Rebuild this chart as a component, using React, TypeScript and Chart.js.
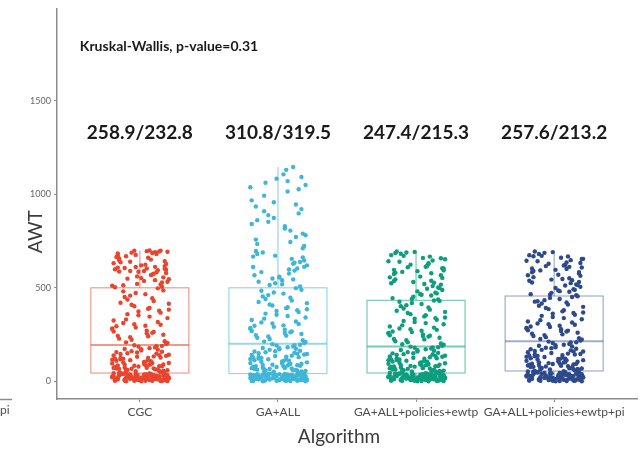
import React, { useEffect, useRef } from "react";
import { Chart, registerables } from "chart.js";

Chart.register(...registerables);

// ---- data ----
const CATEGORIES = ["CGC", "GA+ALL", "GA+ALL+policies+ewtp", "GA+ALL+policies+ewtp+pi"];
const SUMMARY_LABELS = ["258.9/232.8", "310.8/319.5", "247.4/215.3", "257.6/213.2"];
const KW_LABEL = "Kruskal-Wallis, p-value=0.31";
const Y_TICKS = [0, 500, 1000, 1500];
const X_TITLE = "Algorithm";
const Y_TITLE = "AWT";

const WHISKER_LOW = [0, 0, 0, 0];
const Q1 = [44, 41, 44, 55];
const MEDIAN = [194, 200, 186, 214];
const Q3 = [500, 500, 433, 456];
const WHISKER_HIGH = [700, 1146, 694, 694];

const CGC_AWT = [
  3, 12, 27, 8, 40, 19, 33, 5, 22, 14, 37, 1, 29, 10, 43, 17, 6, 25, 35, 13, 2, 31, 20, 9, 41, 16, 26, 4, 38, 11,
  23, 7, 34, 18, 0, 30, 15, 42, 21, 28, 6, 36, 12, 24, 3, 39, 17, 32, 9, 44, 14, 27, 1, 22, 35, 19, 8, 30, 11, 26,
  4, 18, 31, 10, 25, 2, 37, 15, 21, 7, 42, 13, 28, 0, 34, 19, 9, 39, 24, 5, 16, 33, 11, 44, 20, 1, 29, 14, 36, 8,
  48, 57, 63, 71, 52, 88, 95, 60, 79, 104, 112, 67, 83, 121, 98, 133, 74, 146, 109, 55, 158, 127, 90, 169, 138,
  62, 177, 115, 150, 185, 86, 124, 161, 193, 101, 142, 69, 173, 118, 156, 81, 189, 131, 93, 165, 107, 148, 77, 181, 136,
  51, 66, 84, 59, 97, 72, 113, 54, 89, 125, 68, 140, 80, 154, 103, 171, 92, 187, 120, 64,
  199, 214, 228, 243, 205, 259, 271, 236, 288, 302, 249, 317, 266, 331, 346, 282, 359, 373, 297, 388, 222, 401, 312,
  415, 429, 338, 444, 256, 458, 472, 367, 486, 497, 325, 208, 392, 279, 437, 353, 466, 241, 409, 305, 481, 383, 264,
  451, 420, 294, 377,
  506, 521, 537, 552, 568, 583, 599, 612, 628, 643, 657, 672, 688, 698, 514, 546, 575, 606, 637, 665, 694, 529, 561,
  590, 620, 651, 681, 503, 541, 579, 616, 648, 684, 532, 571, 603, 639, 676, 518, 556, 594, 632, 669, 700, 511, 549,
  586, 624, 661, 691, 597, 602, 587, 608, 693, 686, 696, 590, 611, 699,
];

const GA_ALL_AWT = [
  2, 15, 30, 7, 38, 21, 11, 34, 4, 26, 18, 40, 9, 24, 1, 32, 13, 36, 6, 28, 19, 3, 41, 16, 23, 10, 35, 0, 29, 14,
  39, 8, 25, 20, 5, 33, 12, 37, 17, 27, 2, 31, 22, 9, 40, 15, 6, 26, 35, 11, 19, 3, 30, 24, 13, 38, 7, 21, 33, 16,
  6, 20, 34, 12, 27, 1, 39, 17, 23, 8, 41, 14, 30, 3, 36, 18, 10, 32, 25, 5, 15, 37, 9, 28, 22, 0, 31, 13, 40, 19,
  45, 53, 61, 70, 49, 84, 97, 58, 76, 108, 116, 66, 88, 125, 101, 137, 73, 150, 112, 56, 163, 129, 92, 174, 141,
  64, 182, 119, 155, 191, 80, 132, 168, 198, 104, 146, 68, 178, 122, 159, 86, 195, 135, 95, 171, 110, 152, 78, 186, 143,
  47, 62, 81, 55, 94, 71, 118, 51, 87, 130, 65, 148, 83, 161, 106, 177, 90, 193, 127, 59,
  204, 219, 233, 247, 210, 262, 276, 240, 291, 306, 253, 320, 269, 335, 349, 285, 362, 376, 299, 391, 226, 405, 315,
  418, 432, 341, 447, 258, 461, 475, 370, 489, 498, 328, 212, 396, 281, 440, 356, 469, 244, 411, 309, 484, 385, 266,
  454, 424, 297, 380,
  507, 524, 541, 559, 576, 592, 611, 629, 646, 663, 681, 697, 515, 550, 584, 620, 655, 689, 532, 567, 603, 638, 672,
  519, 555, 598, 634, 667, 545, 612,
  712, 735, 758, 781, 806, 829, 853, 874, 898, 921, 946, 968, 993, 1015, 1038, 1062, 1084, 1107, 1131, 1146, 724,
  790, 862, 935, 1050, 745, 817, 889, 958, 1027, 1093, 772, 841, 910, 1071,
];

const EWTP_AWT = [
  4, 13, 28, 9, 41, 20, 32, 6, 23, 15, 36, 2, 30, 11, 44, 18, 7, 26, 34, 14, 1, 31, 21, 10, 42, 17, 27, 5, 39, 12,
  24, 8, 35, 19, 0, 29, 16, 43, 22, 33, 3, 37, 13, 25, 6, 40, 18, 31, 10, 27, 15, 38, 2, 23, 34, 20, 9, 29, 12, 44,
  7, 19, 33, 11, 26, 0, 38, 16, 22, 5, 43, 14, 29, 2, 35, 17, 9, 40, 24, 4, 13, 36, 10, 42, 21, 1, 30, 15, 37, 8,
  47, 55, 62, 70, 51, 85, 93, 59, 78, 101, 109, 66, 82, 117, 96, 128, 73, 141, 105, 54, 152, 123, 89, 163, 133, 61,
  171, 112, 145, 179, 84, 120, 156, 185, 99, 137, 68, 167, 114, 149, 80, 182, 126, 91, 159, 104, 143, 76, 175, 131,
  50, 64, 79, 57, 92, 70, 110, 53, 86, 122, 63, 136, 81, 150, 99, 166, 88, 181, 116, 60,
  190, 202, 214, 226, 195, 239, 250, 219, 263, 275, 233, 287, 246, 299, 311, 259, 323, 335, 270, 347, 208, 359, 282,
  371, 383, 305, 395, 242, 407, 419, 329, 430, 432, 293, 198, 353, 255, 389, 317, 413, 224, 365, 278, 425, 341, 244,
  401, 377, 266, 338,
  438, 452, 466, 481, 495, 509, 524, 538, 553, 567, 581, 596, 610, 624, 639, 653, 667, 682, 694, 445, 474, 502, 531,
  560, 589, 617, 646, 675, 459, 488, 517, 545, 574, 603, 632, 660, 689, 441, 470, 499, 527, 556, 585, 613, 642, 671,
  692, 463, 520, 578, 605, 658, 686, 536, 593, 627,
];

const EWTP_PI_AWT = [
  5, 16, 33, 10, 48, 24, 38, 7, 27, 18, 43, 2, 35, 13, 52, 21, 8, 31, 40, 17, 1, 37, 25, 12, 50, 20, 32, 6, 46, 14,
  29, 9, 42, 23, 0, 34, 19, 54, 26, 39, 3, 44, 15, 30, 7, 47, 22, 36, 11, 55, 28, 4, 41, 18, 32, 12, 49, 25, 9, 38,
  8, 22, 39, 13, 30, 1, 45, 19, 26, 6, 51, 16, 35, 3, 42, 20, 11, 47, 28, 4, 15, 41, 10, 53, 24, 0, 36, 17, 44, 9,
  58, 66, 75, 84, 62, 100, 109, 71, 92, 118, 127, 79, 97, 136, 113, 148, 87, 162, 123, 64, 174, 143, 104, 186, 155,
  73, 195, 131, 168, 205, 95, 140, 179, 212, 116, 159, 81, 190, 134, 171, 90, 209, 151, 107, 182, 121, 165, 88, 199, 146,
  60, 77, 94, 68, 112, 83, 130, 63, 101, 145, 76, 160, 93, 177, 119, 193, 103, 207, 138, 70,
  218, 230, 242, 254, 223, 266, 278, 247, 290, 302, 260, 314, 273, 326, 338, 285, 350, 362, 297, 374, 236, 386, 309,
  398, 410, 332, 422, 269, 434, 446, 356, 455, 451, 320, 226, 380, 282, 416, 344, 440, 251, 392, 305, 428, 368, 271,
  404, 426, 293, 365,
  460, 473, 486, 499, 512, 525, 538, 551, 564, 577, 590, 603, 616, 629, 642, 655, 668, 681, 694, 466, 492, 518, 544,
  570, 596, 622, 648, 674, 479, 505, 531, 557, 583, 609, 635, 661, 687, 463, 489, 515, 541, 567, 593, 619, 645, 671,
  691, 482, 547, 612, 633, 584, 669, 528, 654, 601,
];

const SERIES = [CGC_AWT, GA_ALL_AWT, EWTP_AWT, EWTP_PI_AWT];

// horizontal jitter offsets (category units), cycled over the points
const JITTER = [
  -0.18, 0.07, -0.02, 0.15, -0.11, 0.2, -0.06, 0.11, -0.2, 0.03, 0.17, -0.14, 0.09, -0.04, 0.19, -0.09, 0.01, 0.13,
  -0.17, 0.05, -0.12, 0.18, -0.01, 0.08, -0.19, 0.14, -0.07, 0.21, -0.15, 0.04, 0.12, -0.1, 0.16, -0.03, 0.1, -0.16,
  0.06,
];

// ---- styles ----
const POINT_COLORS = ["#E8452F", "#3FB6D7", "#0C9E7D", "#2E4A8B"];
const BOX_COLORS = ["rgba(232,69,47,0.55)", "rgba(63,182,215,0.55)", "rgba(12,158,125,0.55)", "rgba(46,74,139,0.45)"];
const FONT = "Lato, 'Open Sans', 'Liberation Sans', sans-serif";
const BOX_HALF = 0.355;

const boxPlugin = {
  id: "boxes",
  beforeDatasetsDraw(chart: any) {
    const { ctx, scales } = chart;
    const xs = scales.x;
    const ys = scales.y;
    ctx.save();
    for (let k = 0; k < CATEGORIES.length; k++) {
      const cx = xs.getPixelForValue(k + 1);
      const x0 = xs.getPixelForValue(k + 1 - BOX_HALF);
      const x1 = xs.getPixelForValue(k + 1 + BOX_HALF);
      const yq1 = ys.getPixelForValue(Q1[k]);
      const yq3 = ys.getPixelForValue(Q3[k]);
      const ymed = ys.getPixelForValue(MEDIAN[k]);
      const ylo = ys.getPixelForValue(WHISKER_LOW[k]);
      const yhi = ys.getPixelForValue(WHISKER_HIGH[k]);
      ctx.strokeStyle = BOX_COLORS[k];
      ctx.lineWidth = 1.2;
      ctx.beginPath();
      ctx.moveTo(cx, yq3);
      ctx.lineTo(cx, yhi);
      ctx.moveTo(cx, yq1);
      ctx.lineTo(cx, ylo);
      ctx.stroke();
      ctx.strokeRect(x0, yq3, x1 - x0, yq1 - yq3);
      ctx.lineWidth = 2;
      ctx.beginPath();
      ctx.moveTo(x0, ymed);
      ctx.lineTo(x1, ymed);
      ctx.stroke();
    }
    ctx.restore();
  },
};

const textPlugin = {
  id: "texts",
  afterDraw(chart: any) {
    const { ctx, scales, chartArea } = chart;
    const xs = scales.x;
    const ys = scales.y;
    ctx.save();
    ctx.fillStyle = "#1a1a1a";
    ctx.textBaseline = "middle";
    ctx.textAlign = "center";
    ctx.font = `bold 19px ${FONT}`;
    for (let k = 0; k < CATEGORIES.length; k++) {
      ctx.fillText(SUMMARY_LABELS[k], xs.getPixelForValue(k + 1), ys.getPixelForValue(1330));
    }
    ctx.textAlign = "left";
    ctx.font = `bold 14px ${FONT}`;
    ctx.fillText(KW_LABEL, xs.getPixelForValue(0.565), ys.getPixelForValue(1792));

    // axis titles
    ctx.fillStyle = "#3a3a3a";
    ctx.font = `19px ${FONT}`;
    ctx.textAlign = "center";
    ctx.fillText(X_TITLE, (chartArea.left + chartArea.right) / 2 - 8, 437);
    ctx.save();
    ctx.translate(36, (chartArea.top + chartArea.bottom) / 2 + 28);
    ctx.rotate(-Math.PI / 2);
    ctx.fillText(Y_TITLE, 0, 0);
    ctx.restore();

    // neighbouring panel fragment at the left edge
    ctx.fillStyle = "#4d4d4d";
    ctx.font = `12px ${FONT}`;
    ctx.textAlign = "left";
    ctx.fillText("pi", 0, 410);
    ctx.strokeStyle = "#8c8c8c";
    ctx.lineWidth = 1.5;
    ctx.beginPath();
    ctx.moveTo(0, chartArea.bottom + 0.5);
    ctx.lineTo(12, chartArea.bottom + 0.5);
    ctx.stroke();
    ctx.restore();
  },
};

export default function App() {
  const ref = useRef<HTMLCanvasElement>(null);
  useEffect(() => {
    document.body.style.margin = "0";
    const datasets = SERIES.map((vals, k) => ({
      label: CATEGORIES[k],
      data: vals.map((y, i) => ({ x: k + 1 + JITTER[(i * 7 + Math.floor(i / JITTER.length)) % JITTER.length], y })),
      backgroundColor: POINT_COLORS[k],
      borderColor: POINT_COLORS[k],
      borderWidth: 0,
      pointRadius: 2.2,
      showLine: false,
    }));
    const chart = new Chart(ref.current!, {
      type: "scatter",
      data: { datasets },
      options: {
        responsive: false,
        animation: false,
        devicePixelRatio: 1,
        layout: { padding: { top: 5, right: 1, left: 0, bottom: 0 } },
        plugins: { legend: { display: false }, tooltip: { enabled: false } },
        scales: {
          x: {
            type: "linear",
            min: 0.4,
            max: 4.6,
            afterBuildTicks: (s: any) => {
              s.ticks = CATEGORIES.map((_, i) => ({ value: i + 1 }));
            },
            afterFit: (s: any) => {
              s.height = 53;
            },
            ticks: {
              autoSkip: false,
              maxRotation: 0,
              padding: 3,
              color: "#4d4d4d",
              font: { family: FONT, size: 12 },
              callback: (v: any) => CATEGORIES[Math.round(v) - 1],
            },
            grid: { drawOnChartArea: false, drawTicks: true, tickLength: 3, color: "#8c8c8c" },
            border: { display: true, color: "#8c8c8c", width: 1.5 },
          },
          y: {
            min: -95,
            max: 1995,
            afterBuildTicks: (s: any) => {
              s.ticks = Y_TICKS.map((v) => ({ value: v }));
            },
            afterFit: (s: any) => {
              s.width = 57;
            },
            ticks: {
              padding: 3,
              color: "#666666",
              font: { family: FONT, size: 9 },
              callback: (v: any) => String(v),
            },
            grid: { drawOnChartArea: false, drawTicks: true, tickLength: 3, color: "#8c8c8c" },
            border: { display: true, color: "#8c8c8c", width: 1.5 },
          },
        },
      },
      plugins: [boxPlugin, textPlugin],
    });
    return () => chart.destroy();
  }, []);
  return (
    <div style={{ width: 641, height: 452, background: "#ffffff" }}>
      <canvas ref={ref} width={641} height={452} style={{ display: "block" }} />
    </div>
  );
}
